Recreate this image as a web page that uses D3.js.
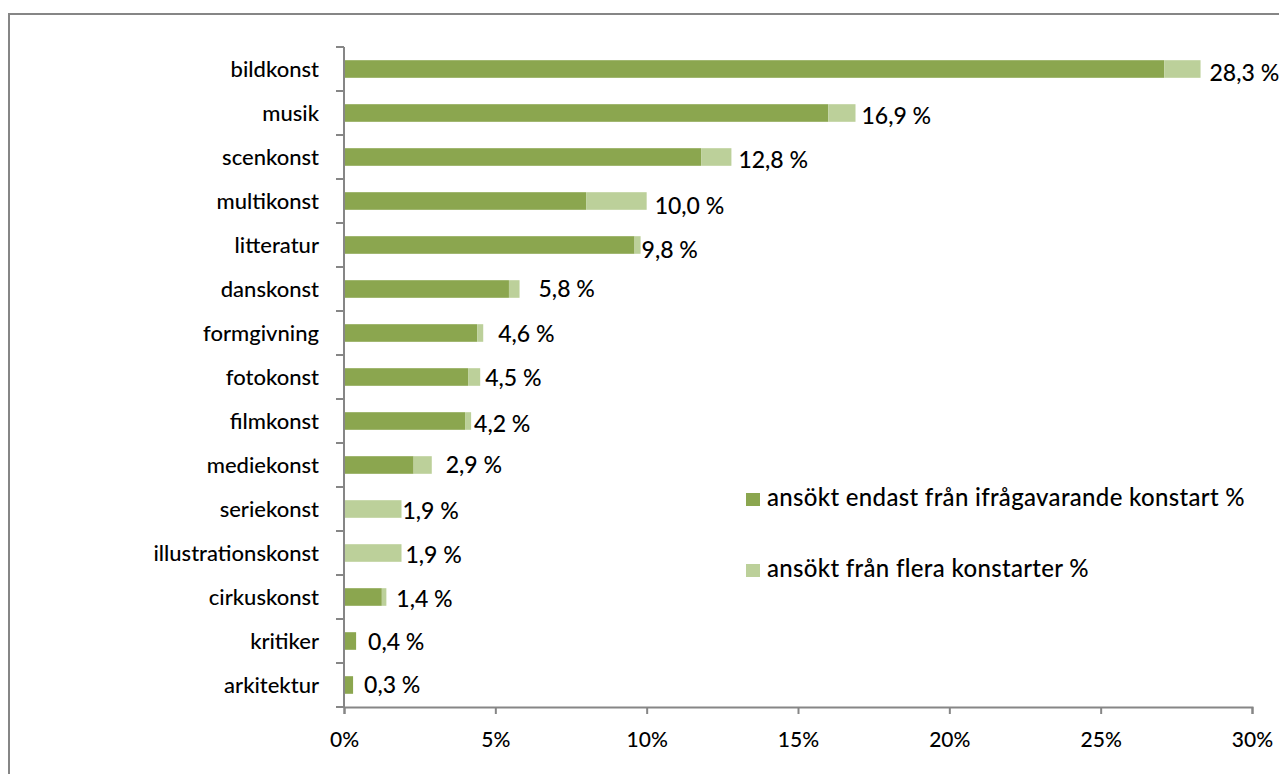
<!DOCTYPE html>
<html>
<head>
<meta charset="utf-8">
<script src="https://cdn.jsdelivr.net/npm/d3@7"></script>
<style>
  html, body { margin: 0; padding: 0; background: #fff; }
  svg { display: block; }
  text { font-family: Lato, "Open Sans", sans-serif; fill: #000; font-weight: 500; }
</style>
</head>
<body>
<svg id="chart" width="1279" height="774"></svg>
<script>
// ---- data ----
const categories = ["bildkonst","musik","scenkonst","multikonst","litteratur","danskonst","formgivning","fotokonst","filmkonst","mediekonst","seriekonst","illustrationskonst","cirkuskonst","kritiker","arkitektur"];
const onlyThisArt = [27.1, 16.0, 11.8, 8.0, 9.6, 5.45, 4.4, 4.1, 4.0, 2.3, 0, 0, 1.25, 0.4, 0.3];
const severalArts = [1.2, 0.9, 1.0, 2.0, 0.2, 0.35, 0.2, 0.4, 0.2, 0.6, 1.9, 1.9, 0.15, 0, 0];
const totalLabels = ["28,3 %","16,9 %","12,8 %","10,0 %","9,8 %","5,8 %","4,6 %","4,5 %","4,2 %","2,9 %","1,9 %","1,9 %","1,4 %","0,4 %","0,3 %"];
const xTicks = [0, 5, 10, 15, 20, 25, 30];
const seriesNames = ["ansökt endast från ifrågavarande konstart %", "ansökt från flera konstarter %"];

// ---- layout / style (not data) ----
const colors = ["#8ba64f", "#bcd09a"];
const labelNudge = [[9,4],[6,3],[7,3],[8,5],[1,5],[19,0],[15,1],[5,1],[3,3],[14,0],[1,1.5],[4,1.5],[10,2],[12,1],[11,0]];
const axisColor = "#868686";

const svg = d3.select("#chart");

// outer border (extends past the right and bottom edge as in the reference)
svg.append("rect")
  .attr("x", 9).attr("y", 14).attr("width", 1300).attr("height", 800)
  .attr("fill", "none").attr("stroke", axisColor).attr("stroke-width", 2);

const x = d3.scaleLinear().domain([0, 30]).range([344, 1252]);
const y = d3.scaleBand().domain(categories).range([47, 707]).paddingInner(0.6).paddingOuter(0.3);

const rows = categories.map((c, i) => ({ cat: c, a: onlyThisArt[i], b: severalArts[i], label: totalLabels[i], nudge: labelNudge[i] }));

// bars
const g = svg.append("g");
g.selectAll("rect.a").data(rows).join("rect")
  .attr("class", "a")
  .attr("x", x(0)).attr("y", d => y(d.cat))
  .attr("width", d => x(d.a) - x(0)).attr("height", y.bandwidth())
  .attr("fill", colors[0]);
g.selectAll("rect.b").data(rows).join("rect")
  .attr("class", "b")
  .attr("x", d => x(d.a)).attr("y", d => y(d.cat))
  .attr("width", d => x(d.a + d.b) - x(d.a)).attr("height", y.bandwidth())
  .attr("fill", colors[1]);

// data labels
g.selectAll("text.lbl").data(rows).join("text")
  .attr("class", "lbl")
  .attr("x", d => x(d.a + d.b) + d.nudge[0])
  .attr("y", d => y(d.cat) + y.bandwidth() / 2 + d.nudge[1])
  .attr("dy", "0.36em")
  .attr("font-size", 23)
  .text(d => d.label);

// y axis
const y0 = y.range()[0], y1 = y.range()[1];
svg.append("line")
  .attr("x1", x(0)).attr("x2", x(0)).attr("y1", y0).attr("y2", y1)
  .attr("stroke", axisColor).attr("stroke-width", 2);
const boundaries = d3.range(categories.length + 1).map(i => y0 + i * y.step());
svg.selectAll("line.ytick").data(boundaries).join("line")
  .attr("class", "ytick")
  .attr("x1", x(0) - 8).attr("x2", x(0)).attr("y1", d => d).attr("y2", d => d)
  .attr("stroke", axisColor).attr("stroke-width", 2);
svg.selectAll("text.cat").data(categories).join("text")
  .attr("class", "cat")
  .attr("x", x(0) - 25)
  .attr("y", d => y(d) + y.bandwidth() / 2)
  .attr("dy", "0.36em")
  .attr("text-anchor", "end")
  .attr("font-size", 22)
  .text(d => d);

// x axis
const xAxis = d3.axisBottom(x).tickValues(xTicks).tickSize(7).tickPadding(18).tickFormat(d => d + "%");
const xg = svg.append("g").attr("transform", `translate(0,${y1})`).call(xAxis);
xg.select(".domain").attr("stroke", axisColor).attr("stroke-width", 2);
xg.selectAll(".tick line").attr("stroke", axisColor).attr("stroke-width", 2);
xg.selectAll(".tick text").attr("font-size", 21).attr("font-family", "Lato, sans-serif").attr("fill", "#000");

// legend
const lg = svg.append("g");
seriesNames.forEach((name, i) => {
  const by = 506 + i * 71;
  lg.append("rect").attr("x", 746).attr("y", by - 13).attr("width", 14).attr("height", 13).attr("fill", colors[i]);
  lg.append("text").attr("x", 767).attr("y", by).attr("font-size", 24).attr("letter-spacing", 0.32).text(name);
});
</script>
</body>
</html>
